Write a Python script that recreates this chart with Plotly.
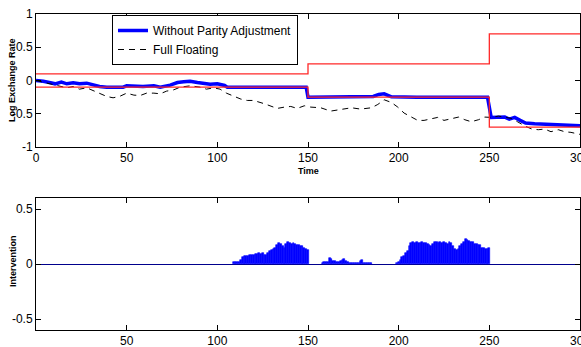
import plotly.graph_objects as go
from plotly.subplots import make_subplots

# ---------------- data ----------------
# Exchange-rate band regimes
regime_start = [0, 150, 250]
regime_end = [150, 250, 300]
band_halfwidth = [0.1, 0.25, 0.7]

# Log exchange rate without parity adjustment (blue)
parity_t = [0, 4, 8, 10.5, 14, 17, 20.5, 24, 28, 31.5, 35, 39, 44, 48, 50, 54, 59, 65,
            68.5, 74, 78, 81.5, 85, 89, 92.5, 96, 100, 104, 105.5, 110, 120, 130, 140,
            149, 150, 160, 170, 180, 186, 189, 192, 196, 200, 210, 220, 230, 240, 249,
            251, 255, 258.5, 261, 264, 267, 270, 275, 280.5, 286, 291.5, 295, 300]
parity_v = [0, -0.01, -0.035, -0.05, -0.025, -0.05, -0.035, -0.05, -0.04, -0.065, -0.09,
            -0.1, -0.1, -0.1, -0.08, -0.09, -0.09, -0.08, -0.1, -0.07, -0.03, -0.02,
            -0.01, -0.03, -0.045, -0.055, -0.05, -0.075, -0.1, -0.1, -0.1, -0.1, -0.1,
            -0.1, -0.25, -0.25, -0.25, -0.25, -0.24, -0.21, -0.2, -0.245, -0.25, -0.25,
            -0.25, -0.25, -0.25, -0.25, -0.555, -0.55, -0.55, -0.58, -0.555, -0.60,
            -0.64, -0.65, -0.655, -0.67, -0.67, -0.68, -0.68]

# Log exchange rate under full floating (black dashed)
float_t = [0, 5, 10.5, 17, 20.5, 24, 28, 31.5, 35, 39, 42.5, 46, 50, 54, 57.5, 61, 65,
           68.5, 72, 76, 79.5, 85, 90.5, 94, 98, 101.5, 105, 109, 113, 116.5, 120, 126,
           129.5, 133, 137, 140.5, 144, 148, 151.5, 157, 162.5, 168, 174, 179, 185,
           188.5, 192, 196, 199.5, 203, 207, 210.5, 214, 218, 221.5, 225, 229, 233,
           236.5, 240, 244, 247.5, 251, 255, 258.5, 262, 265.5, 270, 273.5, 277,
           280.5, 284, 288, 291.5, 295, 299, 300]
float_v = [0, -0.03, -0.06, -0.11, -0.09, -0.13, -0.11, -0.15, -0.19, -0.24, -0.26, -0.24,
           -0.19, -0.22, -0.225, -0.19, -0.19, -0.2, -0.16, -0.14, -0.1, -0.08, -0.1,
           -0.13, -0.11, -0.13, -0.19, -0.24, -0.28, -0.3, -0.3, -0.35, -0.39, -0.42,
           -0.4, -0.39, -0.42, -0.38, -0.4, -0.41, -0.46, -0.44, -0.41, -0.43, -0.41,
           -0.36, -0.29, -0.33, -0.4, -0.49, -0.555, -0.6, -0.6, -0.58, -0.555, -0.6,
           -0.57, -0.55, -0.59, -0.62, -0.59, -0.55, -0.555, -0.535, -0.55, -0.57,
           -0.62, -0.69, -0.73, -0.74, -0.73, -0.77, -0.74, -0.77, -0.78, -0.81, -0.81]

# Intervention (bars)
interv_t = list(range(109, 151)) + list(range(158, 186)) + list(range(199, 251))
interv_v = [
    # 109-150
    0.015, 0.015, 0.015, 0.02, 0.04, 0.06, 0.07, 0.075, 0.07, 0.08, 0.08, 0.085, 0.09,
    0.09, 0.1, 0.095, 0.1, 0.085, 0.08, 0.1, 0.12, 0.13, 0.14, 0.15, 0.17, 0.19, 0.18,
    0.16, 0.15, 0.18, 0.2, 0.19, 0.18, 0.19, 0.18, 0.17, 0.17, 0.16, 0.16, 0.15, 0.14,
    0.13,
    # 158-185
    0.01, 0.02, 0.015, 0.02, 0.055, 0.045, 0.03, 0.03, 0.015, 0.02, 0.03, 0.035, 0.045,
    0.03, 0.015, 0.01, 0.005, 0.005, 0.005, 0.005, 0.005, 0.03, 0.04, 0.01, 0.005,
    0.005, 0.005, 0.01,
    # 199-250
    0.01, 0.02, 0.04, 0.06, 0.07, 0.1, 0.12, 0.16, 0.19, 0.2, 0.19, 0.2, 0.19, 0.19, 0.2,
    0.19, 0.19, 0.18, 0.17, 0.16, 0.18, 0.2, 0.2, 0.19, 0.2, 0.19, 0.2, 0.19, 0.18, 0.2,
    0.19, 0.16, 0.14, 0.13, 0.14, 0.16, 0.18, 0.2, 0.23, 0.22, 0.21, 0.2, 0.2, 0.18,
    0.18, 0.17, 0.17, 0.15, 0.15, 0.14, 0.14, 0.15,
]

x_ticks = [0, 50, 100, 150, 200, 250, 300]
x_ticks_bottom = [50, 100, 150, 200, 250, 300]
y_ticks_top = [-1, -0.5, 0, 0.5, 1]
y_ticks_top_text = ["-1", "-0.5", "0", "0.5", "1"]
y_ticks_bottom = [-0.5, 0, 0.5]
y_ticks_bottom_text = ["-0.5", "0", "0.5"]

# ---------------- figure ----------------
W, H = 581, 347
ml, mr, mt, mb = 36, 1, 14, 17
pw = W - ml - mr
ph = H - mt - mb

def ydom(top_px, bottom_px):
    return [(H - mb - bottom_px) / ph, (H - mb - top_px) / ph]

def px_x(px):
    return (px - ml) / pw

def px_y(px):
    return (H - mb - px) / ph

fig = make_subplots(rows=2, cols=1)

FONT = "Liberation Sans, Arial, sans-serif"

band_x = regime_start + [regime_end[-1]]
upper = band_halfwidth + [band_halfwidth[-1]]
lower = [-h for h in upper]

fig.add_trace(go.Scatter(x=parity_t, y=parity_v, mode="lines", name="Without Parity Adjustment",
                         line=dict(color="rgb(0,0,255)", width=3.5)), row=1, col=1)
fig.add_trace(go.Scatter(x=float_t, y=float_v, mode="lines", name="Full Floating",
                         line=dict(color="black", width=1, dash="6px,5px")), row=1, col=1)
fig.add_trace(go.Scatter(x=band_x, y=upper, mode="lines", line_shape="hv", showlegend=False,
                         line=dict(color="rgb(255,40,40)", width=1.3)), row=1, col=1)
fig.add_trace(go.Scatter(x=band_x, y=lower, mode="lines", line_shape="hv", showlegend=False,
                         line=dict(color="rgb(255,40,40)", width=1.3)), row=1, col=1)

fig.add_trace(go.Bar(x=interv_t, y=interv_v, width=1, showlegend=False,
                     marker=dict(color="rgb(0,0,255)", line=dict(color="rgb(0,0,255)", width=0.6))),
              row=2, col=1)

axis_common = dict(showline=True, linecolor="black", linewidth=1, mirror="ticks",
                   ticks="inside", ticklen=5, tickcolor="black", showgrid=False,
                   ticklabeloverflow="allow", automargin=False,
                   tickfont=dict(family=FONT, size=12, color="black"))

fig.update_xaxes(range=[0, 300], tickvals=x_ticks, ticktext=[str(v) for v in x_ticks],
                 zeroline=False, row=1, col=1, **axis_common)
fig.update_xaxes(range=[0, 300], tickvals=x_ticks_bottom, ticktext=[str(v) for v in x_ticks_bottom],
                 zeroline=False, row=2, col=1, **axis_common)
fig.update_yaxes(range=[-1, 1], tickvals=y_ticks_top, ticktext=y_ticks_top_text,
                 zeroline=False, row=1, col=1, **axis_common)
fig.update_yaxes(range=[-0.6, 0.6], tickvals=y_ticks_bottom, ticktext=y_ticks_bottom_text,
                 zeroline=True, zerolinecolor="rgb(0,0,140)", zerolinewidth=1,
                 row=2, col=1, **axis_common)

fig.update_layout(
    xaxis=dict(domain=[0, 1]),
    xaxis2=dict(domain=[0, 1]),
    yaxis=dict(domain=ydom(14, 147)),
    yaxis2=dict(domain=ydom(198, 330)),
)

title_font = dict(family=FONT, size=9, color="black", weight="bold")
fig.add_annotation(text="Log Exchange Rate", xref="paper", yref="paper",
                   x=px_x(12), y=px_y(80), textangle=-90,
                   showarrow=False, font=title_font, xanchor="center", yanchor="middle")
fig.add_annotation(text="Intervention", xref="paper", yref="paper",
                   x=px_x(13), y=px_y(261), textangle=-90,
                   showarrow=False, font=title_font, xanchor="center", yanchor="middle")
fig.add_annotation(text="Time", xref="paper", yref="paper",
                   x=px_x(308), y=px_y(171),
                   showarrow=False, font=dict(family=FONT, size=9, color="black", weight="bold"),
                   xanchor="center", yanchor="middle")

fig.update_layout(
    width=W, height=H,
    margin=dict(l=ml, r=mr, t=mt, b=mb, autoexpand=False),
    paper_bgcolor="white", plot_bgcolor="white",
    bargap=0,
    legend=dict(x=px_x(112), y=px_y(15), xanchor="left", yanchor="top",
                bgcolor="white", bordercolor="black", borderwidth=1,
                font=dict(family=FONT, size=12, color="black"),
                itemwidth=30, tracegroupgap=0),
    showlegend=True,
)

fig.write_html(
    "out.html",
    config={"displayModeBar": False},
    post_script="document.body.style.margin='0';document.body.style.overflow='hidden';",
)
